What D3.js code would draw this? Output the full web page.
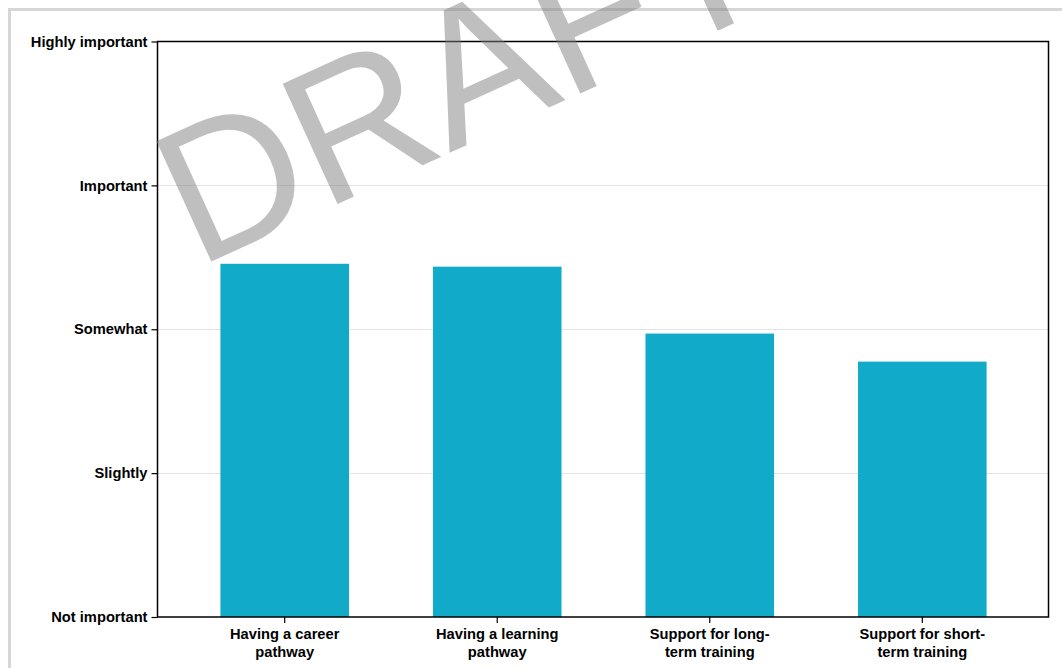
<!DOCTYPE html>
<html>
<head>
<meta charset="utf-8">
<script src="https://cdn.jsdelivr.net/npm/d3@7"></script>
<style>
html,body{margin:0;padding:0;background:#fff;}
svg{display:block;}
text{font-family:"Liberation Sans",Arial,sans-serif;}
</style>
</head>
<body>
<script>
const categories = ["Having a career pathway","Having a learning pathway","Support for long-term training","Support for short-term training"];
const labelLines = [["Having a career","pathway"],["Having a learning","pathway"],["Support for long-","term training"],["Support for short-","term training"]];
const values = [3.455, 3.435, 2.97, 2.775];
const yTickValues = [1,2,3,4,5];
const yTickLabels = ["Not important","Slightly","Somewhat","Important","Highly important"];
const watermark = "DRAFT";

const W = 1062, H = 668;
const m = {left:157.5, top:41.5, right:1049.5, bottom:617};

const svg = d3.select("body").append("svg").attr("width",W).attr("height",H);

// outer frame
svg.append("path").attr("d",`M9.5,${H+5} L9.5,9.5 L${W+5},9.5`)
  .attr("fill","none").attr("stroke","#d6d6d6").attr("stroke-width",3);

const x = d3.scaleBand().domain(categories).range([m.left,m.right]).paddingInner(0.395).paddingOuter(0.296);
const y = d3.scaleLinear().domain([1,5]).range([m.bottom,m.top]);

// gridlines
svg.append("g").selectAll("line").data(yTickValues.slice(1,-1)).join("line")
  .attr("x1",m.left).attr("x2",m.right)
  .attr("y1",d=>Math.round(y(d))+0.5).attr("y2",d=>Math.round(y(d))+0.5)
  .attr("stroke","#e3e3e3").attr("stroke-width",1);

// bars
svg.append("g").selectAll("rect").data(values).join("rect")
  .attr("x",(d,i)=>x(categories[i]))
  .attr("width",x.bandwidth())
  .attr("y",d=>y(d))
  .attr("height",d=>y(1)-y(d))
  .attr("fill","#11aac8");

// plot border
svg.append("rect").attr("x",m.left).attr("y",m.top).attr("width",m.right-m.left-1).attr("height",m.bottom-m.top)
  .attr("fill","none").attr("stroke","#000").attr("stroke-width",1.5);

const fontSize = 14.7;
// y axis
const yAxis = d3.axisLeft(y).tickValues(yTickValues).tickFormat((d,i)=>yTickLabels[i]).tickSize(6).tickPadding(4);
const gy = svg.append("g").attr("transform",`translate(${m.left},0)`).call(yAxis);
gy.select(".domain").remove();
gy.selectAll(".tick line").attr("stroke","#000").attr("stroke-width",1.2);
gy.selectAll(".tick text").attr("font-size",fontSize).attr("font-weight","bold").attr("fill","#000")
  .attr("font-family","'Liberation Sans',Arial,sans-serif");

// x axis
const xAxis = d3.axisBottom(x).tickSize(6).tickFormat("");
const gx = svg.append("g").attr("transform",`translate(0,${m.bottom})`).call(xAxis);
gx.select(".domain").remove();
gx.selectAll(".tick line").attr("stroke","#000").attr("stroke-width",1.2);
gx.selectAll(".tick").each(function(d,i){
  const t = d3.select(this).append("text")
    .attr("text-anchor","middle").attr("font-size",fontSize).attr("font-weight","bold").attr("fill","#000")
    .attr("font-family","'Liberation Sans',Arial,sans-serif");
  labelLines[i].forEach((ln,k)=>{
    t.append("tspan").attr("x",0).attr("y",22+k*17.5).text(ln);
  });
});

// watermark (semi-transparent, on top)
svg.append("text")
  .attr("transform","translate(197,268) rotate(-24.5)")
  .attr("font-size",192)
  .attr("fill","#808080")
  .attr("fill-opacity",0.5)
  .text(watermark);
</script>
</body>
</html>
